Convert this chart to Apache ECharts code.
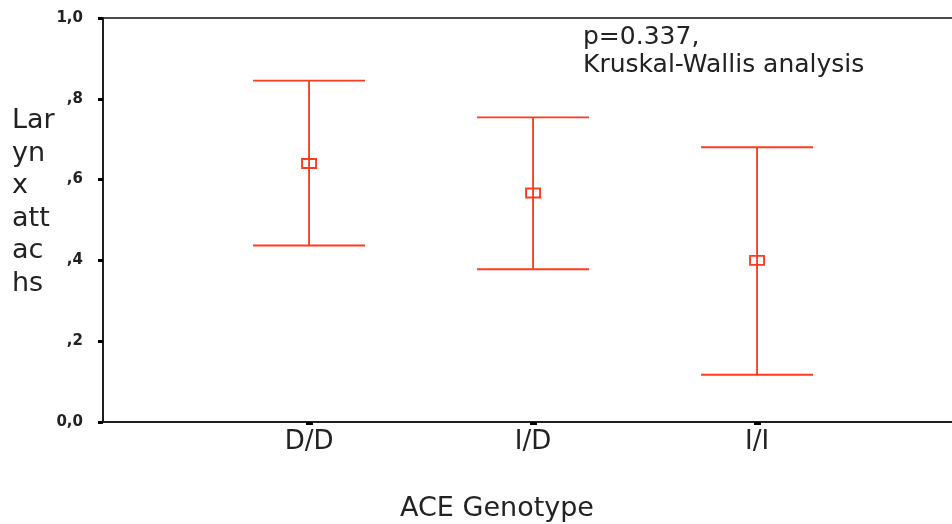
<!DOCTYPE html>
<html>
<head>
<meta charset="utf-8">
<script src="https://cdn.jsdelivr.net/npm/echarts@6/dist/echarts.min.js"></script>
<style>
html,body{margin:0;padding:0;background:#fff;}
#chart{width:952px;height:524px;}
</style>
</head>
<body>
<div id="chart"></div>
<script>
const categories = ['D/D', 'I/D', 'I/I'];
const means = [0.640, 0.567, 0.400];
const upper = [0.845, 0.754, 0.680];
const lower = [0.437, 0.378, 0.117];
const yTickLabels = ['0,0', ',2', ',4', ',6', ',8', '1,0'];
const xTitle = 'ACE Genotype';
const yTitle = 'Lar\nyn\nx\natt\nac\nhs';
const note = 'p=0.337,\nKruskal-Wallis analysis';

const RED = '#ff3b1d';
const FONT = '"DejaVu Sans", sans-serif';
const TXT = '#222';

const chart = echarts.init(document.getElementById('chart'));
const data = categories.map((c, i) => [i + 1, lower[i], upper[i], means[i]]);

function renderItem(params, api) {
  const x = api.value(0);
  const pLo = api.coord([x, api.value(1)]);
  const pHi = api.coord([x, api.value(2)]);
  const pM = api.coord([x, api.value(3)]);
  const hw = 56;
  const ls = { stroke: RED, lineWidth: 1.9, fill: null };
  return {
    type: 'group',
    children: [
      { type: 'line', shape: { x1: pHi[0], y1: pHi[1], x2: pLo[0], y2: pLo[1] }, style: ls },
      { type: 'line', shape: { x1: pHi[0] - hw, y1: pHi[1], x2: pHi[0] + hw, y2: pHi[1] }, style: ls },
      { type: 'line', shape: { x1: pLo[0] - hw, y1: pLo[1], x2: pLo[0] + hw, y2: pLo[1] }, style: ls },
      { type: 'rect', shape: { x: pM[0] - 7, y: pM[1] - 4.5, width: 14, height: 9 }, style: { stroke: RED, lineWidth: 1.9, fill: 'none' } }
    ]
  };
}

chart.setOption({
  animation: false,
  backgroundColor: '#fff',
  grid: {
    left: 103, top: 18, width: 896, height: 404,
    outerBoundsMode: 'none', containLabel: false,
    show: true, borderColor: '#111', borderWidth: 1.5, backgroundColor: 'transparent'
  },
  xAxis: {
    type: 'value', min: 0.08, max: 4.08,
    splitLine: { show: false },
    axisLine: { show: true, lineStyle: { color: '#111', width: 1.5 } },
    axisTick: { show: true, customValues: [1, 2, 3], length: 3, lineStyle: { color: '#000', width: 7 } },
    axisLabel: {
      customValues: [1, 2, 3], margin: 7,
      formatter: v => categories[Math.round(v) - 1] || '',
      fontFamily: FONT, fontSize: 26, color: TXT
    }
  },
  yAxis: {
    type: 'value', min: 0, max: 1, interval: 0.2,
    splitLine: { show: false },
    axisLine: { show: true, lineStyle: { color: '#111', width: 1.5 } },
    axisTick: { show: true, length: 5, lineStyle: { color: '#000', width: 3 } },
    axisLabel: {
      margin: 20,
      formatter: v => yTickLabels[Math.round(v * 5)],
      fontFamily: FONT, fontSize: 15, fontWeight: 'bold', color: TXT
    }
  },
  graphic: [
    { type: 'text', x: 12, y: 105, style: { text: yTitle, font: '27px ' + FONT, fill: TXT, lineHeight: 32.5, textAlign: 'left', textVerticalAlign: 'top' } },
    { type: 'text', x: 583, y: 23, style: { text: note, font: '25px ' + FONT, fill: TXT, lineHeight: 28, textAlign: 'left', textVerticalAlign: 'top' } },
    { type: 'text', x: 497, y: 509, style: { text: xTitle, font: '27px ' + FONT, fill: TXT, textAlign: 'center', textVerticalAlign: 'middle' } }
  ],
  series: [{
    type: 'custom',
    renderItem: renderItem,
    data: data,
    encode: { x: 0, y: [1, 2, 3] },
    clip: false
  }]
});
</script>
</body>
</html>
